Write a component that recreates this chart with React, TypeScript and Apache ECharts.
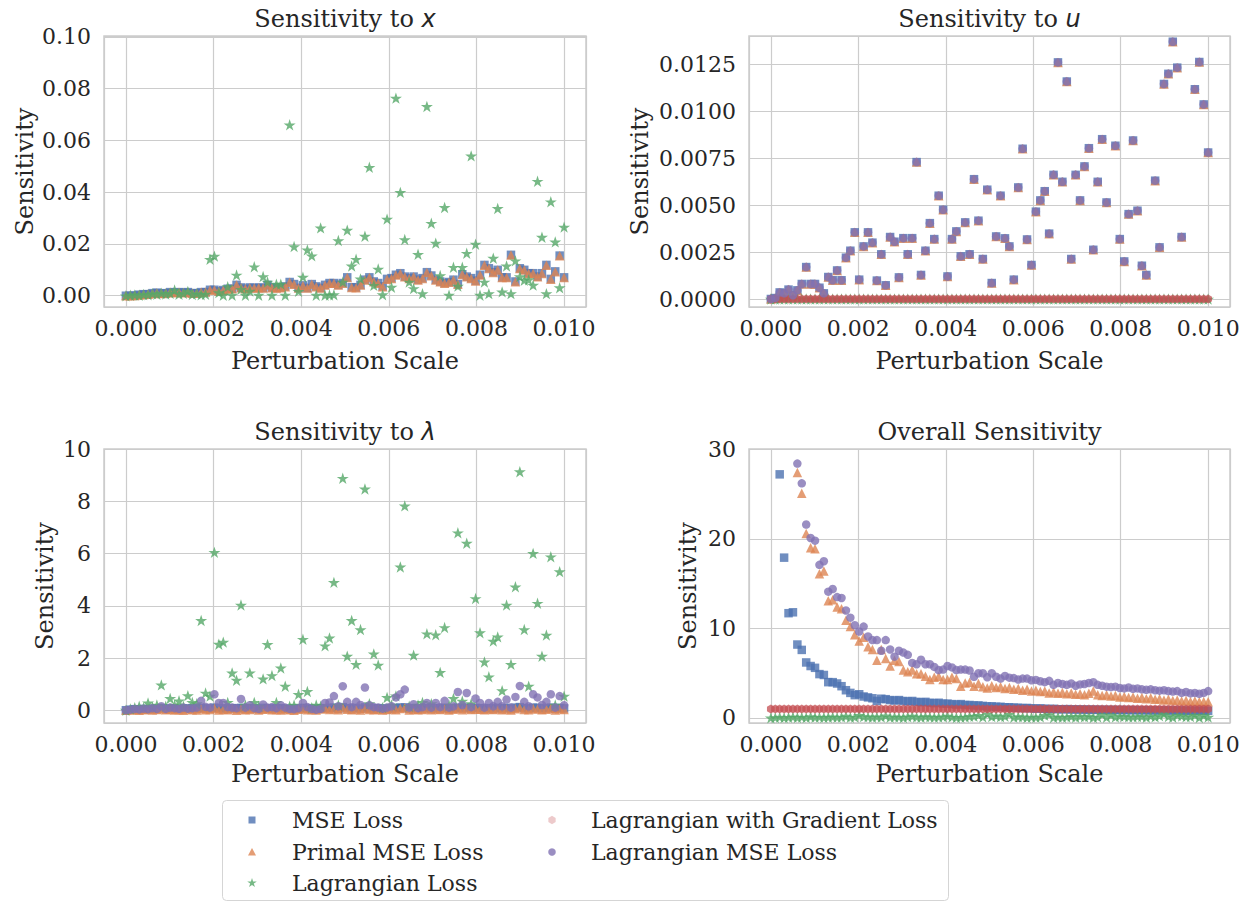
import React, { useEffect, useRef } from 'react';
import * as echarts from 'echarts';

// Perturbation scale grid (micro-units), 100 points from 0 to 0.01
const scaleMicro = [
  0, 101, 202, 303, 404, 505, 606, 707, 808, 909,
  1010, 1111, 1212, 1313, 1414, 1515, 1616, 1717, 1818, 1919,
  2020, 2121, 2222, 2323, 2424, 2525, 2626, 2727, 2828, 2929,
  3030, 3131, 3232, 3333, 3434, 3535, 3636, 3737, 3838, 3939,
  4040, 4141, 4242, 4343, 4444, 4545, 4646, 4747, 4848, 4949,
  5051, 5152, 5253, 5354, 5455, 5556, 5657, 5758, 5859, 5960,
  6061, 6162, 6263, 6364, 6465, 6566, 6667, 6768, 6869, 6970,
  7071, 7172, 7273, 7374, 7475, 7576, 7677, 7778, 7879, 7980,
  8081, 8182, 8283, 8384, 8485, 8586, 8687, 8788, 8889, 8990,
  9091, 9192, 9293, 9394, 9495, 9596, 9697, 9798, 9899, 10000,
];
const perturbationScale = scaleMicro.map((v) => v / 1e6);

const seriesNames = ['MSE Loss', 'Primal MSE Loss', 'Lagrangian Loss', 'Lagrangian with Gradient Loss', 'Lagrangian MSE Loss'];

// ---- Sensitivity to x ----
const xMSE = [
  0, 0, 0.0001, 0.0004, 0.0006, 0.0006, 0.001, 0.0012, 0.0009, 0.001,
  0.0014, 0.0012, 0.0014, 0.0012, 0.0014, 0.001, 0.001, 0.0014, 0.0014, 0.0023,
  0.0023, 0.0017, 0.0022, 0.0027, 0.0027, 0.0042, 0.0032, 0.0027, 0.0032, 0.003,
  0.0032, 0.003, 0.0042, 0.0032, 0.003, 0.0032, 0.0036, 0.0053, 0.0045, 0.003,
  0.004, 0.003, 0.0045, 0.0036, 0.003, 0.0042, 0.0049, 0.0049, 0.0042, 0.0049,
  0.0071, 0.0033, 0.0032, 0.0042, 0.0062, 0.0071, 0.0055, 0.0049, 0.0036, 0.0065,
  0.0068, 0.0081, 0.0087, 0.0074, 0.0068, 0.0074, 0.0062, 0.0068, 0.0091, 0.0078,
  0.0062, 0.0055, 0.0049, 0.0053, 0.0062, 0.0045, 0.0083, 0.0074, 0.0068, 0.0058,
  0.0081, 0.0119, 0.0106, 0.0091, 0.01, 0.0071, 0.0071, 0.0158, 0.0055, 0.0106,
  0.01, 0.0087, 0.0087, 0.0074, 0.0087, 0.0119, 0.0065, 0.0094, 0.0155, 0.0071,
];
const xPrimal = [
  0, 0, 0.0001, 0.0003, 0.0005, 0.0006, 0.0009, 0.0011, 0.0009, 0.001,
  0.0013, 0.0012, 0.0013, 0.0012, 0.0013, 0.001, 0.001, 0.0013, 0.0014, 0.0022,
  0.0022, 0.0017, 0.0021, 0.0026, 0.0027, 0.0041, 0.0031, 0.0027, 0.0031, 0.003,
  0.0031, 0.003, 0.0041, 0.0031, 0.003, 0.0031, 0.0035, 0.0052, 0.0044, 0.003,
  0.0039, 0.003, 0.0044, 0.0035, 0.003, 0.0041, 0.0048, 0.0048, 0.0041, 0.0048,
  0.007, 0.0032, 0.0031, 0.0041, 0.0061, 0.007, 0.0054, 0.0048, 0.0035, 0.0064,
  0.0067, 0.008, 0.0086, 0.0073, 0.0067, 0.0073, 0.0061, 0.0067, 0.009, 0.0077,
  0.0061, 0.0054, 0.0048, 0.0052, 0.0061, 0.0044, 0.0082, 0.0073, 0.0067, 0.0057,
  0.008, 0.0118, 0.0105, 0.009, 0.0099, 0.007, 0.007, 0.0157, 0.0054, 0.0105,
  0.0099, 0.0086, 0.0086, 0.0073, 0.0086, 0.0118, 0.0064, 0.0093, 0.0154, 0.007,
];
const xLagrangian = [
  0, 0.0002, 0.0003, 0.0002, 0.0005, 0.0004, 0.0008, 0.0006, 0.001, 0.0007,
  0.0009, 0.0022, 0.0006, 0.0009, 0.0017, 0.0005, 0.0008, 0.0004, 0.0006, 0.0141,
  0.0153, 0.0012, 0.0002, 0.0035, 0.0002, 0.008, 0.0025, 0.0002, 0.0018, 0.0112,
  0.0002, 0.0074, 0.0053, 0.0002, 0.0045, 0.0045, 0.0002, 0.066, 0.019, 0.0017,
  0.0072, 0.0177, 0.0154, 0.0002, 0.0262, 0.0002, 0.0003, 0.0004, 0.0213, 0.0053,
  0.0253, 0.0115, 0.0141, 0.0065, 0.023, 0.0496, 0.004, 0.0103, 0.0004, 0.0296,
  0.0033, 0.0763, 0.0399, 0.0217, 0.0053, 0.0028, 0.016, 0.0008, 0.0731, 0.028,
  0.0203, 0.0078, 0.0341, 0.0002, 0.011, 0.0037, 0.011, 0.0164, 0.054, 0.0199,
  0.0002, 0.0053, 0.0008, 0.0145, 0.0337, 0.0015, 0.0115, 0.0008, 0.0135, 0.0074,
  0.006, 0.0062, 0.0041, 0.0442, 0.0226, 0.0008, 0.0363, 0.0208, 0.0031, 0.0265,
];

// ---- Sensitivity to u ---- (null = beyond the plotted range)
const uMSE = [
  0, 0.00005, 0.00035, 0.0003, 0.0005, 0.0002, 0.00046, 0.0008, 0.0017, 0.0008,
  0.0008, 0.0006, 0.0003, 0.00117, 0.001, 0.00152, 0.001, 0.0022, 0.00257, 0.00355,
  0.00103, 0.0028, 0.00355, 0.003, 0.00098, 0.00238, 0.00073, 0.0033, 0.00305, 0.00115,
  0.00324, 0.00238, 0.00324, 0.00729, 0.00128, 0.00257, 0.00404, 0.00319, 0.0055, 0.00475,
  0.0012, 0.00319, 0.0036, 0.00227, 0.00408, 0.00238, 0.00638, 0.00417, 0.00213, 0.00582,
  0.00085, 0.00333, 0.0055, 0.00323, 0.0028, 0.00103, 0.00594, 0.008, 0.00317, 0.00181,
  0.00465, 0.00525, 0.00574, 0.00348, 0.00661, 0.0126, 0.00624, 0.01158, 0.00213, 0.00661,
  0.00525, 0.00706, 0.00803, 0.00262, 0.00624, 0.00851, 0.00514, null, 0.00816, 0.00319,
  0.002, 0.00452, 0.00844, 0.0047, 0.00177, 0.00128, null, 0.0063, 0.00275, 0.01145,
  0.01199, 0.0137, 0.01232, 0.0033, null, null, 0.01117, 0.01262, 0.01036, 0.0078,
];
const uPrimal = uMSE;
const uLagMSE = uMSE;
const uLagrangian = [
  0, 0, 0, 0, 0, 0, 0, 0, 0, 0, 0, 0, 0, 0, 0, 0, 0, 0, 0, 0,
  0, 0, 0, 0, 0, 0, 0, 0, 0, 0, 0, 0, 0, 0, 0, 0, 0, 0, 0, 0,
  0, 0, 0, 0, 0, 0, 0, 0, 0, 0, 0, 0, 0, 0, 0, 0, 0, 0, 0, 0,
  0, 0, 0, 0, 0, 0, 0, 0, 0, 0, 0, 0, 0, 0, 0, 0, 0, 0, 0, 0,
  0, 0, 0, 0, 0, 0, 0, 0, 0, 0, 0, 0, 0, 0, 0, 0, 0, 0, 0, 0,
];
const uLagGrad = [
  0, 0, 0, 0, 0, 0, 0, 0, 0, 0, 0, 0, 0, 0, 0, 0, 0, 0, 0, 0,
  0, 0, 0, 0, 0, 0, 0, 0, 0, 0, 0, 0, 0, 0, 0, 0, 0, 0, 0, 0,
  0, 0, 0, 0, 0, 0, 0, 0, 0, 0, 0, 0, 0, 0, 0, 0, 0, 0, 0, 0,
  0, 0, 0, 0, 0, 0, 0, 0, 0, 0, 0, 0, 0, 0, 0, 0, 0, 0, 0, 0,
  0, 0, 0, 0, 0, 0, 0, 0, 0, 0, 0, 0, 0, 0, 0, 0, 0, 0, 0, 0,
];

// ---- Sensitivity to lambda ----
const lamMSE = [
  0, 0.02, 0.04, 0.03, 0.05, 0.04, 0.06, 0.05, 0.08, 0.05,
  0.07, 0.06, 0.05, 0.07, 0.06, 0.08, 0.06, 0.09, 0.07, 0.06,
  0.1, 0.08, 0.07, 0.06, 0.08, 0.07, 0.09, 0.06, 0.07, 0.08,
  0.05, 0.09, 0.07, 0.06, 0.08, 0.07, 0.06, 0.05, 0.07, 0.06,
  0.09, 0.07, 0.05, 0.06, 0.07, 0.08, 0.09, 0.1, 0.06, 0.12,
  0.08, 0.07, 0.09, 0.06, 0.11, 0.07, 0.06, 0.08, 0.05, 0.07,
  0.06, 0.09, 0.1, 0.11, 0.06, 0.08, 0.05, 0.07, 0.09, 0.06,
  0.08, 0.07, 0.09, 0.06, 0.07, 0.1, 0.08, 0.1, 0.07, 0.09,
  0.08, 0.06, 0.08, 0.07, 0.09, 0.07, 0.09, 0.06, 0.1, 0.12,
  0.08, 0.07, 0.1, 0.09, 0.07, 0.08, 0.1, 0.06, 0.09, 0.07,
];
const lamPrimal = [
  0, 0.01, 0.03, 0.0, 0.02, 0.05, 0.01, 0.03, 0.06, 0.02,
  0.04, 0.01, 0.03, 0.0, 0.05, 0.02, 0.01, 0.07, 0.02, 0.03,
  0.08, 0.01, 0.04, 0.02, 0.06, 0.0, 0.05, 0.02, 0.03, 0.07,
  0.01, 0.04, 0.06, 0.02, 0.03, 0.01, 0.05, 0.02, 0.0, 0.04,
  0.07, 0.02, 0.03, 0.01, 0.05, 0.08, 0.03, 0.06, 0.02, 0.09,
  0.04, 0.02, 0.05, 0.01, 0.08, 0.03, 0.02, 0.04, 0.01, 0.03,
  0.05, 0.02, 0.07, 0.09, 0.01, 0.04, 0.02, 0.03, 0.06, 0.02,
  0.05, 0.03, 0.06, 0.01, 0.04, 0.08, 0.02, 0.07, 0.03, 0.05,
  0.04, 0.02, 0.05, 0.03, 0.06, 0.02, 0.05, 0.01, 0.06, 0.09,
  0.03, 0.02, 0.07, 0.05, 0.02, 0.04, 0.08, 0.01, 0.06, 0.03,
];
const lamLagrangian = [
  0, 0.05, 0.1, 0.15, 0.1, 0.28, 0.12, 0.2, 0.97, 0.15,
  0.45, 0.2, 0.36, 0.15, 0.56, 0.3, 0.25, 3.44, 0.66, 0.54,
  6.05, 2.53, 2.61, 0.3, 1.43, 1.15, 4.03, 0.2, 1.43, 0.3,
  0.15, 1.2, 2.52, 1.33, 0.3, 1.62, 0.92, 0.15, 0.2, 0.61,
  2.72, 0.72, 0.1, 0.2, 0.15, 2.47, 2.77, 4.9, 0.2, 8.89,
  2.07, 3.44, 1.76, 3.09, 8.48, 0.25, 2.16, 1.73, 0.1, 0.49,
  0.2, 0.55, 5.49, 7.83, 0.15, 2.11, 0.2, 0.3, 2.93, 0.25,
  2.89, 1.45, 3.17, 0.2, 0.45, 6.8, 0.35, 6.4, 0.25, 4.28,
  2.97, 1.85, 1.28, 2.65, 2.81, 0.75, 4.03, 1.76, 4.73, 9.14,
  3.09, 0.92, 6.01, 4.1, 2.07, 2.88, 5.88, 0.2, 5.31, 0.54,
];
const lamLagMSE = [
  0, 0.02, 0.05, 0.03, 0.06, 0.04, 0.08, 0.05, 0.15, 0.05,
  0.1, 0.08, 0.05, 0.1, 0.06, 0.08, 0.1, 0.36, 0.13, 0.1,
  0.61, 0.28, 0.28, 0.12, 0.1, 0.08, 0.43, 0.1, 0.19, 0.08,
  0.05, 0.22, 0.1, 0.12, 0.08, 0.19, 0.1, 0.05, 0.04, 0.08,
  0.28, 0.12, 0.05, 0.02, 0.05, 0.28, 0.3, 0.54, 0.15, 0.92,
  0.32, 0.12, 0.32, 0.2, 0.87, 0.19, 0.12, 0.1, 0.06, 0.1,
  0.15, 0.49, 0.61, 0.79, 0.1, 0.23, 0.08, 0.12, 0.28, 0.1,
  0.28, 0.12, 0.36, 0.1, 0.15, 0.7, 0.2, 0.66, 0.12, 0.45,
  0.28, 0.1, 0.28, 0.15, 0.32, 0.15, 0.41, 0.1, 0.51, 0.93,
  0.32, 0.15, 0.61, 0.49, 0.2, 0.32, 0.61, 0.1, 0.54, 0.19,
];

// ---- Overall sensitivity ---- (null = beyond the plotted range)
const ovMSE = [
  null, null, 27.2, 17.9, 11.7, 11.8, 8.2, 7.6, 6.2, 5.8,
  5.6, 4.9, 4.8, 4.0, 4.0, 3.85, 3.55, 3.1, 2.8, 2.55,
  2.65, 2.4, 2.3, 2.2, 1.9, 2.15, 2.1, 2.0, 1.95, 2.0,
  1.9, 1.85, 1.9, 1.8, 1.75, 1.8, 1.7, 1.65, 1.7, 1.6,
  1.6, 1.55, 1.5, 1.55, 1.45, 1.45, 1.4, 1.4, 1.35, 1.3,
  1.3, 1.25, 1.25, 1.2, 1.2, 1.15, 1.15, 1.1, 1.12, 1.08,
  1.05, 1.07, 1.03, 1.0, 1.02, 0.98, 0.97, 0.99, 0.95, 0.96,
  0.94, 0.95, 0.92, 0.94, 0.91, 0.92, 0.9, 0.91, 0.89, 0.9,
  0.88, 0.89, 0.87, 0.88, 0.86, 0.87, 0.85, 0.86, 0.84, 0.85,
  0.83, 0.85, 0.82, 0.84, 0.81, 0.83, 0.8, 0.82, 0.8, 0.81,
];
const ovPrimal = [
  null, null, null, null, null, null, 27.4, 25.1, 20.6, 19.0,
  18.9, 16.1, 16.4, 13.1, 13.2, 12.4, 12.2, 10.9, 10.2, 9.3,
  8.6, 9.0, 7.95, 7.65, 6.45, 7.65, 6.65, 5.8, 6.45, 6.3,
  5.35, 5.15, 5.35, 4.95, 4.95, 4.65, 4.3, 4.55, 4.65, 4.3,
  4.3, 4.55, 4.4, 3.55, 3.9, 4.0, 3.55, 3.85, 3.5, 3.35,
  3.6, 3.4, 3.5, 3.3, 3.4, 3.2, 3.3, 3.1, 3.2, 3.0,
  3.1, 2.95, 3.0, 2.8, 2.9, 2.75, 2.85, 2.7, 2.8, 2.65,
  2.7, 2.6, 2.75, 3.0, 2.6, 2.5, 2.6, 2.45, 2.5, 2.35,
  2.4, 2.3, 2.35, 2.2, 2.3, 2.15, 2.25, 2.1, 2.15, 2.0,
  2.1, 1.95, 2.0, 1.9, 1.95, 1.85, 1.9, 1.8, 1.85, 1.8,
];
const ovLagrangian = [
  0.02, 0.05, 0.1, 0.04, 0.08, 0.12, 0.06, 0.1, 0.05, 0.15,
  0.08, 0.1, 0.06, 0.09, 0.12, 0.07, 0.1, 0.2, 0.08, 0.11,
  0.3, 0.15, 0.12, 0.09, 0.14, 0.1, 0.25, 0.08, 0.12, 0.1,
  0.06, 0.14, 0.2, 0.1, 0.09, 0.16, 0.12, 0.07, 0.1, 0.13,
  0.22, 0.1, 0.06, 0.08, 0.11, 0.18, 0.2, 0.3, 0.1, 0.45,
  0.15, 0.24, 0.14, 0.2, 0.42, 0.08, 0.15, 0.12, 0.05, 0.1,
  0.08, 0.12, 0.3, 0.38, 0.06, 0.12, 0.07, 0.1, 0.18, 0.09,
  0.2, 0.12, 0.2, 0.06, 0.1, 0.35, 0.08, 0.32, 0.1, 0.22,
  0.18, 0.12, 0.1, 0.16, 0.17, 0.08, 0.22, 0.12, 0.24, 0.45,
  0.17, 0.09, 0.3, 0.22, 0.13, 0.16, 0.3, 0.06, 0.28, 0.1,
];
const ovLagGrad = [
  1, 1, 1, 1, 1, 1, 1, 1, 1, 1, 1, 1, 1, 1, 1, 1, 1, 1, 1, 1,
  1, 1, 1, 1, 1, 1, 1, 1, 1, 1, 1, 1, 1, 1, 1, 1, 1, 1, 1, 1,
  1, 1, 1, 1, 1, 1, 1, 1, 1, 1, 1, 1, 1, 1, 1, 1, 1, 1, 1, 1,
  1, 1, 1, 1, 1, 1, 1, 1, 1, 1, 1, 1, 1, 1, 1, 1, 1, 1, 1, 1,
  1, 1, 1, 1, 1, 1, 1, 1, 1, 1, 1, 1, 1, 1, 1, 1, 1, 1, 1, 1,
];
const ovLagMSE = [
  null, null, null, null, null, null, 28.4, 26.2, 21.6, 20.1,
  19.8, 17.1, 17.5, 14.1, 14.4, 13.5, 13.4, 12.0, 11.2, 10.35,
  9.65, 10.2, 9.1, 8.7, 8.7, 7.5, 8.7, 7.65, 6.85, 7.5,
  7.3, 7.05, 6.15, 6.0, 6.5, 6.0, 6.0, 5.7, 5.35, 5.4,
  5.8, 5.65, 5.35, 5.4, 5.4, 5.3, 4.6, 5.0, 5.0, 4.55,
  5.0, 4.6, 4.4, 4.7, 4.5, 4.45, 4.3, 4.4, 4.4, 4.2,
  4.25, 4.1, 4.0, 4.15, 3.7, 3.9, 3.8, 3.7, 3.85, 3.6,
  3.75, 3.8, 3.9, 4.0, 3.7, 3.6, 3.5, 3.45, 3.5, 3.35,
  3.3, 3.4, 3.25, 3.3, 3.2, 3.15, 3.2, 3.1, 3.05, 3.1,
  3.0, 2.95, 3.0, 2.8, 2.9, 2.75, 2.8, 2.7, 2.8, 3.0,
];

// ---------- styling ----------
const COLORS = ['#4C72B0', '#DD8452', '#55A868', '#C44E52', '#8172B3'];
const TEXT = '#262626';
const GRIDC = '#cccccc';
const SERIF = 'DejaVu Serif';
const TICK_FS = 22;
const LABEL_FS = 24;
const LEGEND_FS = 22;

const starPath = (() => {
  const p: string[] = [];
  for (let k = 0; k < 10; k++) {
    const r = k % 2 === 0 ? 1 : 0.382;
    const a = -Math.PI / 2 + (k * Math.PI) / 5;
    p.push(`${(r * Math.cos(a)).toFixed(3)},${(r * Math.sin(a)).toFixed(3)}`);
  }
  return 'path://M' + p.join('L') + 'Z';
})();
const hexPath = 'path://M0,-1L-0.866,-0.5L-0.866,0.5L0,1L0.866,0.5L0.866,-0.5Z';

const SYMBOLS = ['rect', 'triangle', starPath, hexPath, 'circle'];
const SIZES = [8.5, 9.5, 12, 9, 8.5];
const OPAC = [0.8, 0.8, 0.8, 0.75, 0.8];

const GRIDS = [
  { left: 104, top: 36, width: 482, height: 271 },
  { left: 749, top: 36, width: 481, height: 271 },
  { left: 104, top: 449, width: 482, height: 274 },
  { left: 749, top: 449, width: 481, height: 274 },
];
const Y_AXES = [
  { min: -0.00435, max: 0.1003, step: 0.02, digits: 2, nameGap: 67 },
  { min: -0.000426, max: 0.014005, step: 0.0025, digits: 4, nameGap: 97 },
  { min: -0.49, max: 10.01, step: 2, digits: 0, nameGap: 47 },
  { min: -0.56, max: 30.03, step: 10, digits: 0, nameGap: 49 },
];
const X_NAME_GAP = [42, 42, 39, 39];

const PANEL_DATA: (number | null)[][][] = [
  [xMSE, xPrimal, xLagrangian, [], []],
  [uMSE, uPrimal, uLagrangian, uLagGrad, uLagMSE],
  [lamMSE, lamPrimal, lamLagrangian, [], lamLagMSE],
  [ovMSE, ovPrimal, ovLagrangian, ovLagGrad, ovLagMSE],
];

const tickFormatter = (step: number, digits: number) => (v: number) => {
  const q = v / step;
  if (Math.abs(q - Math.round(q)) > 1e-6) return '';
  const r = Math.round(q) * step;
  return (Math.abs(r) < 1e-12 ? 0 : r).toFixed(digits);
};

const toPoints = (ys: (number | null)[]) =>
  perturbationScale
    .map((x, i) => (ys[i] === null || ys[i] === undefined ? null : [x, ys[i] as number]))
    .filter((p) => p !== null) as number[][];

function buildOption() {
  const grid = GRIDS.map((g) => ({ ...g, show: true, borderColor: GRIDC, borderWidth: 1.5, backgroundColor: 'transparent' }));
  const labelStyle = { color: TEXT, fontFamily: SERIF, fontSize: TICK_FS };
  const nameStyle = { color: TEXT, fontFamily: SERIF, fontSize: LABEL_FS };
  const xAxis = GRIDS.map((_, gi) => ({
    type: 'value',
    gridIndex: gi,
    min: -0.0005,
    max: 0.0105,
    minInterval: 0.002,
    maxInterval: 0.002,
    axisLine: { show: false },
    axisTick: { show: false },
    splitLine: { show: true, lineStyle: { color: GRIDC, width: 1.2 } },
    axisLabel: { ...labelStyle, margin: 10, formatter: tickFormatter(0.002, 3) },
    name: 'Perturbation Scale',
    nameLocation: 'middle',
    nameGap: X_NAME_GAP[gi],
    nameTextStyle: nameStyle,
  }));
  const yAxis = Y_AXES.map((a, gi) => ({
    type: 'value',
    gridIndex: gi,
    min: a.min,
    max: a.max,
    minInterval: a.step,
    maxInterval: a.step,
    axisLine: { show: false },
    axisTick: { show: false },
    splitLine: { show: true, lineStyle: { color: GRIDC, width: 1.2 } },
    axisLabel: { ...labelStyle, margin: 13, formatter: tickFormatter(a.step, a.digits) },
    name: 'Sensitivity',
    nameLocation: 'middle',
    nameGap: a.nameGap,
    nameTextStyle: nameStyle,
  }));

  const series: any[] = [];
  PANEL_DATA.forEach((panel, gi) => {
    panel.forEach((ys, si) => {
      if (!ys.length) return;
      series.push({
        type: 'scatter',
        name: seriesNames[si],
        xAxisIndex: gi,
        yAxisIndex: gi,
        data: toPoints(ys),
        symbol: SYMBOLS[si],
        symbolSize: SIZES[si],
        symbolKeepAspect: true,
        itemStyle: { color: COLORS[si], opacity: OPAC[si] },
        silent: true,
        clip: true,
      });
    });
  });

  // titles
  const titleSpecs = [
    { base: 'Sensitivity to ', math: 'x', gi: 0, y: 19 },
    { base: 'Sensitivity to ', math: 'u', gi: 1, y: 19 },
    { base: 'Sensitivity to ', math: 'λ', gi: 2, y: 432 },
    { base: 'Overall Sensitivity', math: '', gi: 3, y: 432 },
  ];
  const graphic: any[] = titleSpecs.map((t) => ({
    type: 'text',
    x: GRIDS[t.gi].left + GRIDS[t.gi].width / 2,
    y: t.y,
    style: {
      text: t.math ? `{a|${t.base}}{m|${t.math}}` : `{a|${t.base}}`,
      rich: {
        a: { fontFamily: SERIF, fontSize: LABEL_FS, fill: TEXT, color: TEXT },
        m: { fontFamily: 'DejaVu Sans', fontStyle: 'italic', fontSize: LABEL_FS, fill: TEXT, color: TEXT },
      },
      align: 'center',
      verticalAlign: 'middle',
    },
  }));

  // legend (drawn as graphics)
  graphic.push({
    type: 'rect',
    shape: { x: 222.5, y: 800.5, width: 726, height: 100, r: 4 },
    style: { fill: '#ffffff', stroke: '#d5d5d5', lineWidth: 1 },
  });
  const legendPos = [
    { mx: 252, tx: 292, y: 820 },
    { mx: 252, tx: 292, y: 852 },
    { mx: 252, tx: 292, y: 883 },
    { mx: 552, tx: 591, y: 820 },
    { mx: 552, tx: 591, y: 852 },
  ];
  const starPts = (cx: number, cy: number, r: number) => {
    const pts: number[][] = [];
    for (let k = 0; k < 10; k++) {
      const rr = k % 2 === 0 ? r : r * 0.382;
      const a = -Math.PI / 2 + (k * Math.PI) / 5;
      pts.push([cx + rr * Math.cos(a), cy + rr * Math.sin(a)]);
    }
    return pts;
  };
  const hexPts = (cx: number, cy: number, r: number) => {
    const pts: number[][] = [];
    for (let k = 0; k < 6; k++) {
      const a = -Math.PI / 2 + (k * Math.PI) / 3;
      pts.push([cx + r * Math.cos(a), cy + r * Math.sin(a)]);
    }
    return pts;
  };
  seriesNames.forEach((name, si) => {
    const p = legendPos[si];
    const st = { fill: COLORS[si], opacity: si === 3 ? 0.3 : 0.8 };
    let marker: any;
    if (si === 0) marker = { type: 'rect', shape: { x: p.mx - 3.5, y: p.y - 3.5, width: 7, height: 7 }, style: st };
    else if (si === 1) marker = { type: 'polygon', shape: { points: [[p.mx, p.y - 4], [p.mx - 4, p.y + 3.5], [p.mx + 4, p.y + 3.5]] }, style: st };
    else if (si === 2) marker = { type: 'polygon', shape: { points: starPts(p.mx, p.y, 5) }, style: st };
    else if (si === 3) marker = { type: 'polygon', shape: { points: hexPts(p.mx, p.y, 4.2) }, style: st };
    else marker = { type: 'circle', shape: { cx: p.mx, cy: p.y, r: 3.8 }, style: st };
    graphic.push(marker);
    graphic.push({
      type: 'text',
      x: p.tx,
      y: p.y,
      style: { text: name, fontFamily: SERIF, fontSize: LEGEND_FS, fill: TEXT, align: 'left', verticalAlign: 'middle' },
    });
  });

  return {
    animation: false,
    backgroundColor: '#ffffff',
    grid,
    xAxis,
    yAxis,
    series,
    graphic,
  };
}

export default function App() {
  const ref = useRef<HTMLDivElement | null>(null);
  useEffect(() => {
    if (!ref.current) return;
    const chart = echarts.init(ref.current, null, { renderer: 'svg' });
    chart.setOption(buildOption() as any);
    return () => chart.dispose();
  }, []);
  return (
    <div
      ref={ref}
      style={{ position: 'fixed', left: 0, top: 0, width: 1247, height: 902, background: '#ffffff' }}
    />
  );
}
